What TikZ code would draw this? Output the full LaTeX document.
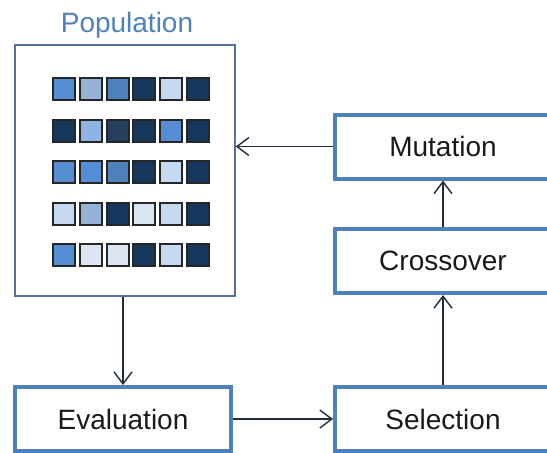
\documentclass[tikz,border=0pt]{standalone}
\usepackage{fontspec}
\setmainfont{Liberation Sans}
\usetikzlibrary{positioning,arrows.meta}

\definecolor{frame}{RGB}{79,129,189}
\definecolor{thin}{RGB}{84,112,156}
\definecolor{ink}{RGB}{31,45,61}
\definecolor{c1}{RGB}{85,142,213}
\definecolor{c2}{RGB}{149,179,215}
\definecolor{c3}{RGB}{79,129,189}
\definecolor{c4}{RGB}{23,55,94}
\definecolor{c5}{RGB}{198,217,241}
\definecolor{c6}{RGB}{141,180,226}
\definecolor{c7}{RGB}{36,63,96}
\definecolor{c8}{RGB}{220,230,242}

\tikzset{
  stage/.style={draw=frame, line width=2pt, minimum width=108pt, minimum height=32pt,
    inner sep=0pt, text=black!90, font=\fontsize{14}{17}\selectfont},
  popbox/.style={draw=thin, line width=0.75pt, minimum width=110pt, minimum height=125.5pt, inner sep=0pt},
  gene/.style={draw=black!85, line width=1pt, minimum size=11pt, inner sep=0pt},
  flow/.style={draw=ink, line width=0.7pt, -{Straight Barb[length=6pt,width=9pt]}}
}

\begin{document}
\begin{tikzpicture}[x=0.5pt,y=-0.5pt]
\useasboundingbox (0,0) rectangle (547,452);
\clip (0,0) rectangle (547,452);

% Population and its individuals
\node[popbox] (pop) at (125,170.5) {};
\node[text=frame, font=\fontsize{14}{17}\selectfont] (poplabel) at (127,25) {Population};
\foreach \cl [count=\r] in {{c1,c2,c3,c4,c5,c4},{c4,c6,c7,c4,c1,c4},{c1,c1,c3,c4,c5,c4},{c5,c2,c4,c8,c5,c4},{c1,c8,c8,c4,c5,c4}}{
  \foreach \c [count=\k] in \cl{
    \node[gene, fill=\c] (g\r\k) at ({64+26.8*(\k-1)},{89+41.6*(\r-1)}) {};
  }
}

% The stages
\node[stage] (eval) at (123,419) {Evaluation};
\node[stage] (sel) at (443,419) {Selection};
\node[stage] (cross) at (443,261) {Crossover};
\node[stage] (mut) at (443,146.5) {Mutation};

% Connectors
\draw[flow] (pop.south -| eval.north) -- (eval.north);
\draw[flow] (eval.east) -- (sel.west);
\draw[flow] (sel.north) -- (cross.south);
\draw[flow] (cross.north) -- (mut.south);
\draw[flow] (mut.west) -- (mut.west -| pop.east);
\end{tikzpicture}
\end{document}
